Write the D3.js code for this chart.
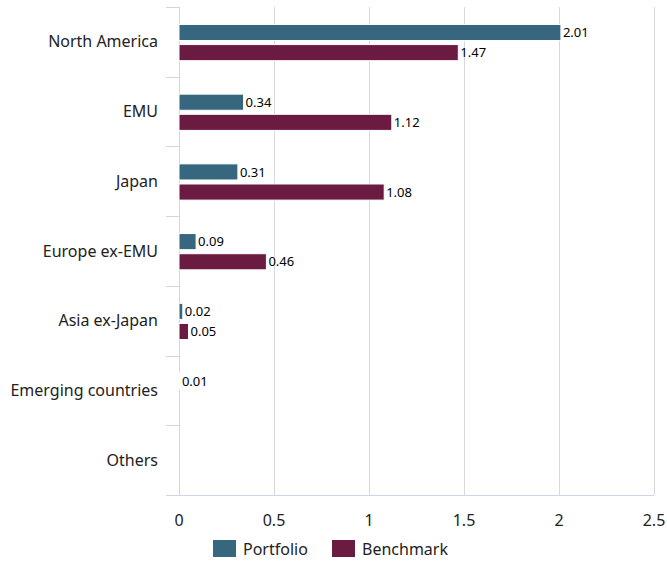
<!DOCTYPE html>
<html>
<head>
<meta charset="utf-8">
<script src="https://cdn.jsdelivr.net/npm/d3@7"></script>
<style>
  body { margin: 0; background: #fff; }
  text { font-family: "Noto Sans", sans-serif; }
</style>
</head>
<body>
<div id="chart"></div>
<script>
// regions and series
const categories = ["North America", "EMU", "Japan", "Europe ex-EMU", "Asia ex-Japan", "Emerging countries", "Others"];
const seriesNames = ["Portfolio", "Benchmark"];
const portfolio = [2.01, 0.34, 0.31, 0.09, 0.02, 0.005, null];
const benchmark = [1.47, 1.12, 1.08, 0.46, 0.05, null, null];
const xTicks = [0, 0.5, 1, 1.5, 2, 2.5];
const colors = ["#37667f", "#6b1a42"];

const width = 667, height = 561;
const margin = { top: 7, right: 13, bottom: 66, left: 179 };

const svg = d3.select("#chart").append("svg")
  .attr("width", width)
  .attr("height", height);

const x = d3.scaleLinear()
  .domain([0, 2.5])
  .range([margin.left, width - margin.right]);

const y = d3.scaleBand()
  .domain(categories)
  .range([margin.top, height - margin.bottom]);

const y1 = d3.scaleBand()
  .domain(seriesNames)
  .range([y.bandwidth() * 0.25, y.bandwidth() * 0.77])
  .paddingInner(0.2);

const rows = categories.map((c, i) => ({
  cat: c,
  values: [portfolio[i], benchmark[i]]
}));

// vertical grid
svg.append("g")
  .selectAll("line")
  .data(xTicks)
  .join("line")
  .attr("x1", d => Math.round(x(d)) + 0.5)
  .attr("x2", d => Math.round(x(d)) + 0.5)
  .attr("y1", margin.top)
  .attr("y2", height - margin.bottom)
  .attr("stroke", "#d9d9d9")
  .attr("stroke-width", 1);

// category axis (left)
const yAxis = svg.append("g");
yAxis.append("line")
  .attr("x1", margin.left + 0.5).attr("x2", margin.left + 0.5)
  .attr("y1", margin.top).attr("y2", height - margin.bottom)
  .attr("stroke", "#ccd6eb");
const bounds = categories.map(c => y(c)).concat([y.range()[1]]);
yAxis.selectAll("line.tick")
  .data(bounds)
  .join("line")
  .attr("class", "tick")
  .attr("x1", margin.left - 13).attr("x2", margin.left)
  .attr("y1", d => Math.round(d) + 0.5).attr("y2", d => Math.round(d) + 0.5)
  .attr("stroke", "#ccd6eb");
yAxis.selectAll("text")
  .data(categories)
  .join("text")
  .attr("x", margin.left - 21)
  .attr("y", d => y(d) + y.bandwidth() / 2)
  .attr("dy", "0.35em")
  .attr("text-anchor", "end")
  .attr("font-size", 16)
  .attr("fill", "#222")
  .text(d => d);

// value axis (bottom)
const xAxis = svg.append("g");
xAxis.append("line")
  .attr("x1", margin.left - 13).attr("x2", width - margin.right)
  .attr("y1", height - margin.bottom + 0.5).attr("y2", height - margin.bottom + 0.5)
  .attr("stroke", "#ccd6eb");
xAxis.selectAll("text")
  .data(xTicks)
  .join("text")
  .attr("x", d => x(d))
  .attr("y", height - margin.bottom + 31)
  .attr("text-anchor", "middle")
  .attr("font-size", 16)
  .attr("fill", "#222")
  .text(d => d);

// bars
const fmt = d3.format(".2f");
const group = svg.append("g")
  .selectAll("g")
  .data(rows)
  .join("g")
  .attr("transform", d => `translate(0,${y(d.cat)})`);

const cells = group.selectAll("g")
  .data(d => d.values.map((v, i) => ({ v, s: seriesNames[i], i })).filter(e => e.v != null))
  .join("g");

cells.append("rect")
  .attr("x", x(0))
  .attr("y", d => y1(d.s))
  .attr("width", d => x(d.v) - x(0))
  .attr("height", y1.bandwidth())
  .attr("fill", d => colors[d.i])
  .attr("stroke", "#fff")
  .attr("stroke-width", 1);

cells.append("text")
  .attr("x", d => x(d.v) + 2)
  .attr("y", d => y1(d.s) + y1.bandwidth() / 2)
  .attr("dy", "0.36em")
  .attr("font-family", "DejaVu Sans, sans-serif")
  .attr("font-size", 13)
  .attr("fill", "#000")
  .text(d => fmt(d.v));

// legend
const legendX = [213, 332];
const legend = svg.append("g")
  .selectAll("g")
  .data(seriesNames)
  .join("g")
  .attr("transform", (d, i) => `translate(${legendX[i]},540)`);
legend.append("rect")
  .attr("width", 23).attr("height", 17)
  .attr("fill", (d, i) => colors[i]);
legend.append("text")
  .attr("x", 30).attr("y", 9)
  .attr("dy", "0.35em")
  .attr("font-size", 16)
  .attr("fill", "#222")
  .text(d => d);
</script>
</body>
</html>
